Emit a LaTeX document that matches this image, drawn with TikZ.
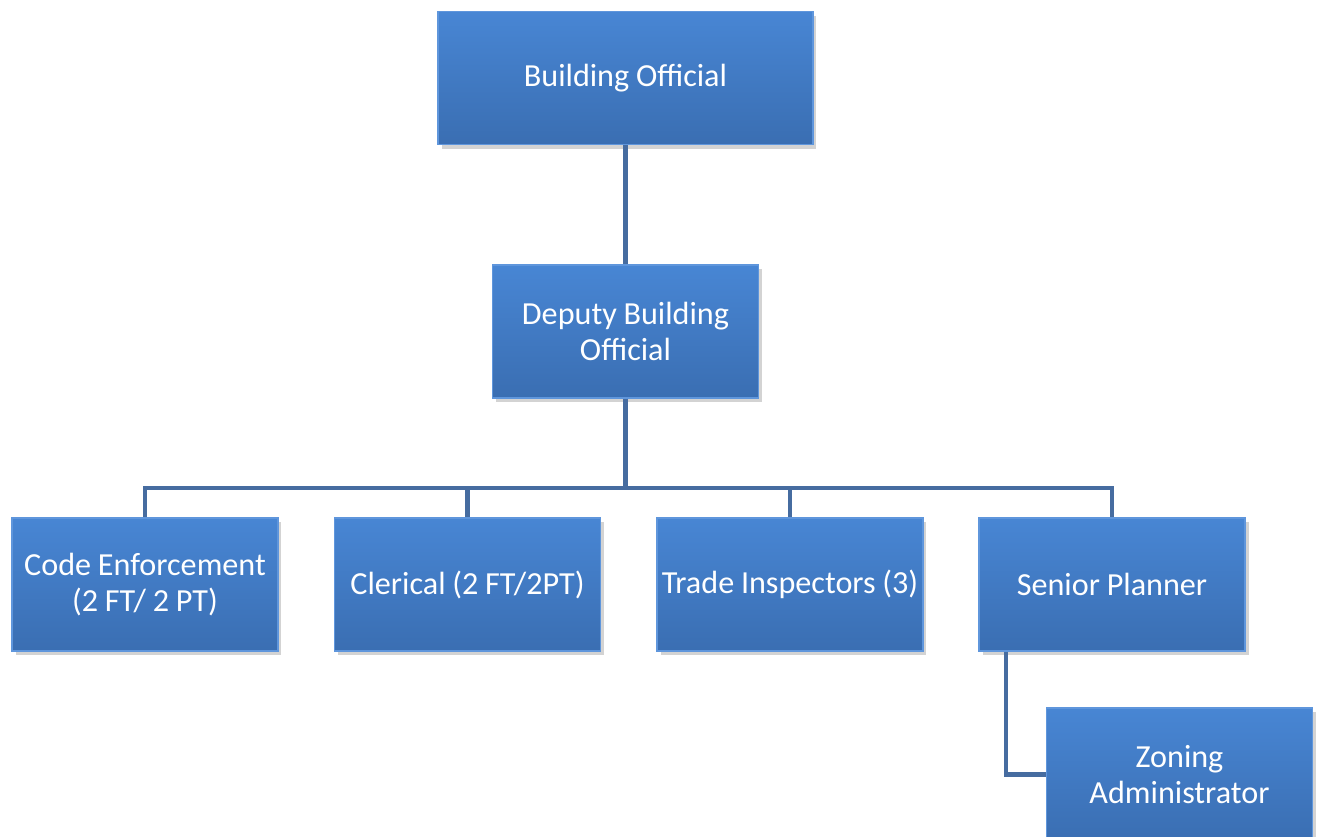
\documentclass[tikz,border=0pt]{standalone}
\usepackage{fontspec}
\setmainfont{Carlito}
\usepackage{xcolor}
\usetikzlibrary{shadows}
\definecolor{boxtop}{RGB}{72,134,212}
\definecolor{boxbot}{RGB}{58,110,178}
\definecolor{boxrim}{RGB}{95,150,220}
\definecolor{linkblue}{RGB}{70,108,160}
\newcommand{\orgfont}{\fontsize{18.3pt}{20pt}\selectfont\spaceskip=0.21em\relax}
\begin{document}
\begin{tikzpicture}[x=0.02cm,y=-0.02cm,
orgbox/.style={draw=boxrim, line width=0.8pt, top color=boxtop, bottom color=boxbot, text=white, align=center, font=\orgfont, minimum width=5.32cm, minimum height=2.66cm, inner sep=2pt, drop shadow={shadow xshift=2pt, shadow yshift=-2.5pt, opacity=0.35}},
link/.style={draw=linkblue, line width=2.3pt}
]
\useasboundingbox (0,0) rectangle (1319,837);

\node[orgbox, minimum width=7.5cm](bo) at (625.5,78) {Building Official};
\node[orgbox](dbo) at (625.5,331.5) {Deputy Building\\Official};

\node[orgbox](ce) at (145,584.5) {Code Enforcement\\(2 FT/ 2 PT)};
\node[orgbox](cl) at (467.5,584.5) {Clerical (2 FT/2PT)};
\node[orgbox](ti) at (790,584.5) {Trade Inspectors (3)};
\node[orgbox](sp) at (1112,584.5) {Senior Planner};

\node[orgbox](za) at (1179.5,774.5) {Zoning\\Administrator};

\coordinate (bus) at (625.5,488);
\coordinate (zcorner) at (1006,772);

\draw[link](bo) to (dbo);
\draw[link](dbo) to (bus);
\draw[link](bus) -| (ce);
\draw[link](bus) -| (cl);
\draw[link](bus) -| (ti);
\draw[link](bus) -| (sp);
\draw[link](sp.south -| zcorner) |- (za.west);

\end{tikzpicture}
\end{document}
